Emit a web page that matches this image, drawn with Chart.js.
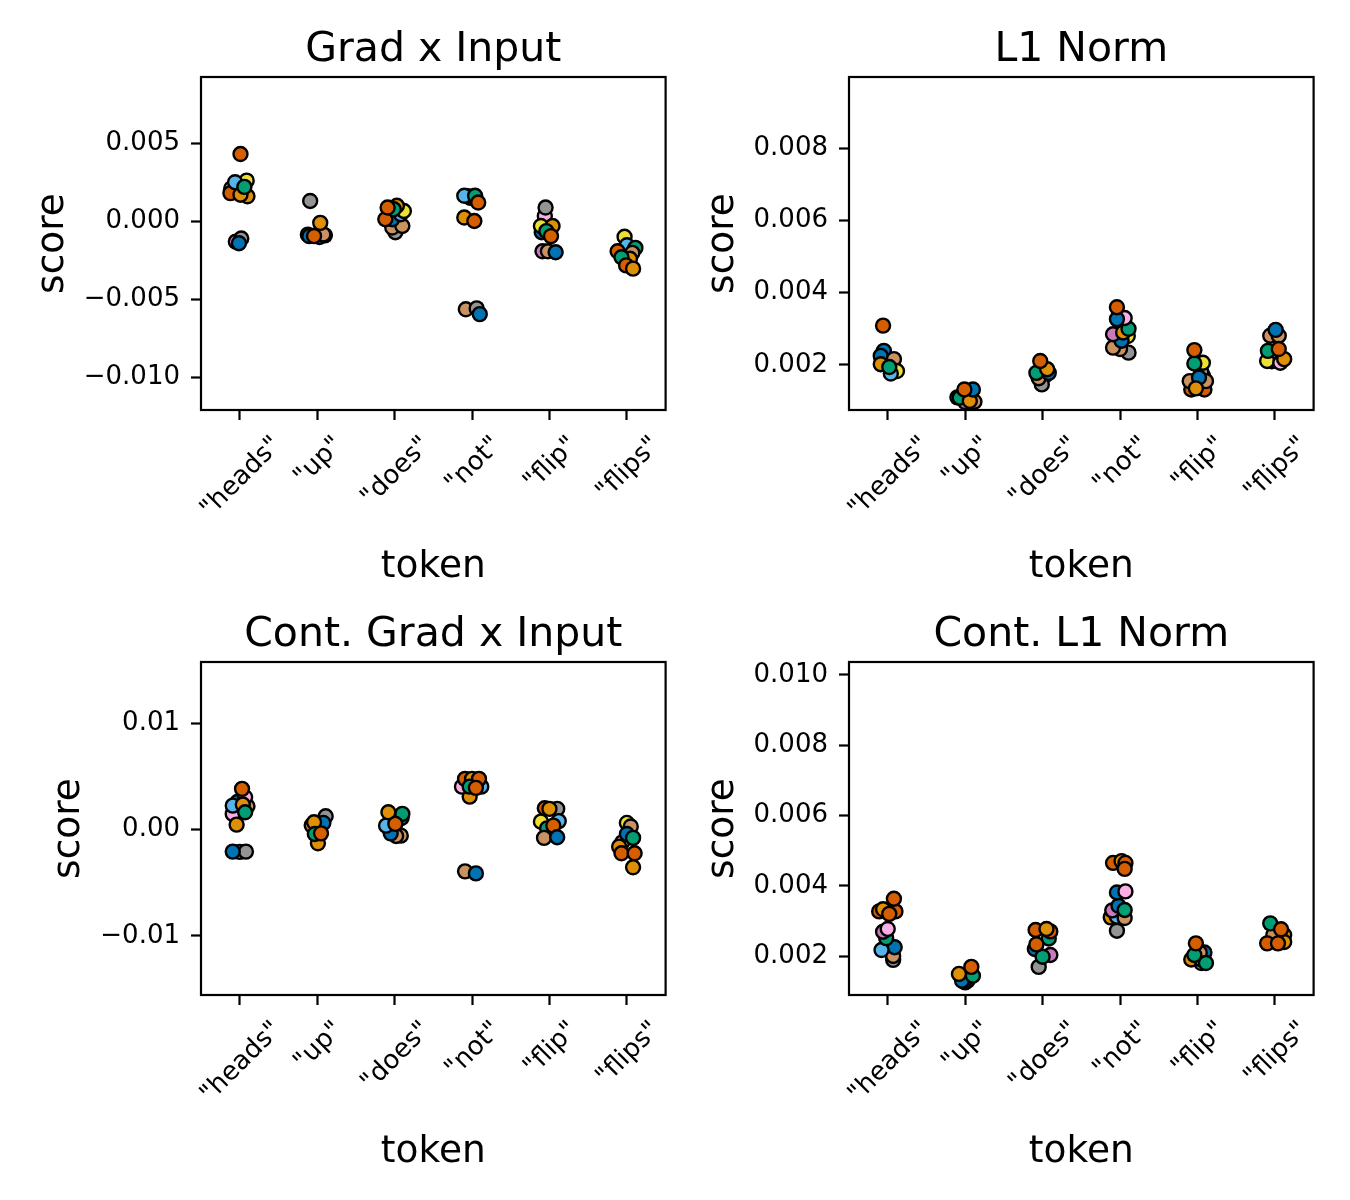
<!DOCTYPE html>
<html>
<head>
<meta charset="utf-8">
<script src="https://cdn.jsdelivr.net/npm/chart.js@4.4.1/dist/chart.umd.min.js"></script>
<style>
  body { margin: 0; background: #fff; width: 1350px; height: 1200px; position: relative; overflow: hidden; }
  canvas { position: absolute; }
</style>
</head>
<body>
<canvas id="c0" width="675" height="585" style="left:0;top:0"></canvas>
<canvas id="c1" width="675" height="585" style="left:648px;top:0"></canvas>
<canvas id="c2" width="675" height="615" style="left:0;top:585px"></canvas>
<canvas id="c3" width="675" height="615" style="left:648px;top:585px"></canvas>
<script>
// token categories on the x axis
const tokens = ['"heads"', '"up"', '"does"', '"not"', '"flip"', '"flips"'];
// seaborn colorblind palette
// 0 blue 1 orange 2 green 3 vermillion 4 purple 5 tan 6 pink 7 gray 8 yellow 9 light blue
const palette = ['#0173b2', '#de8f05', '#029e73', '#d55e00', '#cc78bc', '#ca9161', '#fbafe4', '#949494', '#ece133', '#56b4e9'];

// --- Grad x Input ---
const gxiScore = [
  [0.0026, 0.0021, 0.0016, 0.0018, 0.0017, 0.0025, 0.0022, 0.0043, -0.0013, -0.0011, -0.0014],
  [-0.00085, -0.0009, -0.0009, -0.00095, -0.0010, -0.0009, -0.00084, -0.00095, -0.0001, 0.0013],
  [-0.0007, -0.0004, -0.0003, 0.00013, 0.00013, 0.00045, 0.00066, 0.00099, 0.00077, 0.00088],
  [0.0015, 0.0016, 0.00163, 0.00163, 0.0012, 0.00024, 0.00002, -0.00563, -0.00557, -0.00594],
  [0.00034, 0.00088, -0.0007, -0.0003, -0.0003, -0.00063, -0.00095, -0.00192, -0.00192, -0.00198],
  [-0.0018, -0.00099, -0.00153, -0.0017, -0.00202, -0.00192, -0.0024, -0.0023, -0.00282, -0.00303]
];
const gxiJitter = [
  [0.09, -0.11, 0.10, -0.12, 0.01, -0.06, 0.06, 0.01, -0.05, 0.02, -0.01],
  [-0.12, -0.02, 0.06, -0.10, 0.03, 0.10, 0.08, -0.04, 0.04, -0.09],
  [0.01, -0.03, 0.10, -0.03, -0.12, 0.08, 0.12, 0.03, -0.01, -0.09],
  [-0.02, -0.05, -0.10, 0.04, 0.08, -0.10, 0.03, -0.08, 0.06, 0.10],
  [-0.06, -0.05, -0.10, -0.11, 0.04, -0.04, 0.02, -0.09, -0.02, 0.08],
  [-0.04, -0.03, 0.00, 0.11, 0.07, -0.12, 0.04, -0.07, -0.01, 0.08]
];
const gxiHue = [
  [8, 6, 1, 3, 1, 9, 2, 3, 4, 7, 0],
  [9, 4, 8, 0, 2, 6, 5, 3, 1, 7],
  [7, 5, 5, 0, 3, 9, 8, 1, 2, 3],
  [8, 0, 9, 2, 3, 1, 3, 5, 7, 0],
  [6, 7, 0, 8, 1, 2, 3, 4, 5, 0],
  [0, 8, 9, 2, 5, 3, 1, 2, 3, 1]
];
const gxiTicks = [-0.010, -0.005, 0.000, 0.005];

// --- L1 Norm ---
const l1Score = [
  [0.0022, 0.0021, 0.00239, 0.00225, 0.00216, 0.00202, 0.00183, 0.00176, 0.00194, 0.00309],
  [0.00105, 0.0011, 0.00097, 0.00098, 0.00109, 0.0010, 0.00132, 0.00132],
  [0.0017, 0.0018, 0.00146, 0.00163, 0.00178, 0.00178, 0.00188, 0.00211],
  [0.0028, 0.00234, 0.00244, 0.00248, 0.00267, 0.00285, 0.0029, 0.0030, 0.0033, 0.00327, 0.0036],
  [0.0016, 0.0017, 0.0018, 0.00132, 0.00132, 0.00155, 0.00155, 0.00165, 0.00135, 0.00206, 0.00204, 0.00241],
  [0.0022, 0.0021, 0.00211, 0.00206, 0.00216, 0.00281, 0.00281, 0.00297, 0.00239, 0.00244]
];
const l1Jitter = [
  [-0.08, 0.07, -0.05, -0.09, 0.08, -0.09, 0.12, 0.04, 0.02, -0.06],
  [0.02, -0.10, 0.00, 0.12, -0.07, 0.06, 0.10, -0.01],
  [0.03, 0.00, -0.01, -0.05, 0.08, -0.08, 0.06, -0.03],
  [0.10, 0.11, 0.00, -0.09, 0.02, -0.09, 0.04, 0.11, 0.06, -0.04, -0.04],
  [0.00, 0.07, 0.05, -0.08, 0.09, 0.11, -0.10, 0.02, -0.02, 0.07, -0.04, -0.04],
  [0.00, -0.04, -0.10, 0.07, 0.12, -0.06, 0.05, 0.01, -0.09, 0.05]
];
const l1Hue = [
  [4, 7, 0, 0, 5, 1, 8, 9, 2, 3],
  [9, 7, 4, 5, 2, 1, 0, 3],
  [4, 9, 7, 5, 0, 2, 1, 3],
  [8, 7, 5, 5, 0, 4, 1, 2, 6, 0, 3],
  [4, 9, 7, 3, 3, 5, 5, 0, 1, 8, 2, 3],
  [4, 9, 8, 6, 1, 5, 5, 0, 2, 3]
];
const l1Ticks = [0.002, 0.004, 0.006, 0.008];

// --- Cont. Grad x Input ---
const cgxiScore = [
  [0.0026, 0.0022, 0.00305, 0.00148, 0.00226, 0.00236, 0.00163, 0.00384, 0.00047, -0.0021, -0.00207, -0.00207],
  [0.0000, 0.0004, 0.00126, 0.00063, 0.00069, -0.00129, -0.00041, -0.00035],
  [-0.00057, -0.0006, -0.00035, 0.00038, 0.0011, 0.00148, 0.00163, 0.00054],
  [0.00311, 0.00405, 0.00405, 0.00478, 0.00478, 0.00478, 0.00405, 0.00393, -0.00393, -0.00412],
  [0.00195, 0.00201, 0.00195, 0.0008, 0.00075, 0.00012, 0.00038, -0.00078, -0.00072],
  [0.00063, 0.0003, -0.0012, -0.00041, -0.00078, -0.0016, -0.00223, -0.00223, -0.00355]
];
const cgxiJitter = [
  [-0.03, 0.10, 0.07, -0.09, -0.09, 0.04, 0.07, 0.03, -0.04, 0.00, 0.08, -0.09],
  [0.00, -0.07, 0.11, 0.08, -0.04, 0.01, -0.03, 0.05],
  [0.08, 0.02, -0.05, -0.11, 0.09, 0.10, -0.08, 0.01],
  [-0.03, -0.13, 0.12, -0.09, 0.00, 0.09, -0.03, 0.05, -0.09, 0.05],
  [0.10, -0.06, 0.00, 0.12, -0.11, -0.03, 0.05, -0.07, 0.10],
  [0.00, 0.05, -0.06, 0.00, 0.08, -0.10, -0.07, 0.10, 0.08]
];
const cgxiHue = [
  [0, 5, 6, 6, 9, 1, 2, 3, 1, 4, 7, 0],
  [9, 5, 7, 0, 1, 1, 2, 3],
  [5, 5, 0, 9, 2, 2, 1, 3],
  [1, 6, 9, 3, 1, 3, 2, 3, 5, 0],
  [7, 3, 1, 9, 8, 2, 3, 5, 0],
  [8, 5, 6, 0, 2, 1, 3, 3, 1]
];
const cgxiTicks = [-0.01, 0.00, 0.01];

// --- Cont. L1 Norm ---
const cl1Score = [
  [0.00189, 0.0020, 0.00225, 0.00217, 0.00251, 0.00269, 0.00277, 0.00327, 0.00327, 0.00333, 0.0032, 0.00363],
  [0.00125, 0.0013, 0.00128, 0.0013, 0.00149, 0.00144, 0.00169],
  [0.00169, 0.0022, 0.00203, 0.00198, 0.0025, 0.00233, 0.0027, 0.00274, 0.00277],
  [0.00272, 0.0031, 0.00312, 0.00308, 0.0033, 0.00343, 0.00331, 0.00381, 0.00384, 0.00465, 0.0047, 0.00465, 0.00448],
  [0.0018, 0.0019, 0.0019, 0.0021, 0.0021, 0.0018, 0.00203, 0.00236],
  [0.0025, 0.0026, 0.0026, 0.0024, 0.00236, 0.00236, 0.00293, 0.00276]
];
const cl1Jitter = [
  [0.07, 0.07, 0.09, -0.08, -0.02, -0.06, 0.00, -0.11, 0.10, -0.06, 0.02, 0.08],
  [0.00, 0.03, -0.01, -0.04, -0.08, 0.10, 0.08],
  [-0.05, -0.10, 0.10, 0.00, 0.08, -0.08, 0.10, -0.09, 0.05],
  [-0.04, -0.12, -0.04, 0.06, -0.10, -0.02, 0.06, -0.04, 0.07, -0.09, 0.02, 0.07, 0.06],
  [0.05, -0.08, 0.05, 0.09, 0.03, 0.11, -0.04, -0.02],
  [0.00, 0.12, -0.02, 0.12, -0.10, 0.04, -0.06, 0.08]
];
const cl1Hue = [
  [7, 5, 0, 9, 2, 4, 6, 3, 3, 1, 3, 3],
  [7, 4, 5, 0, 1, 2, 3],
  [7, 0, 4, 2, 2, 3, 3, 3, 1],
  [7, 1, 9, 5, 4, 0, 2, 0, 6, 3, 1, 3, 3],
  [7, 1, 9, 0, 5, 2, 2, 3],
  [0, 1, 5, 1, 3, 3, 2, 3]
];
const cl1Ticks = [0.002, 0.004, 0.006, 0.008, 0.010];

const panels = [
  { id: 'c0', title: 'Grad x Input', score: gxiScore, jitter: gxiJitter, hue: gxiHue, ticks: gxiTicks, dec: 3, min: -0.01207, max: 0.00923 },
  { id: 'c1', title: 'L1 Norm', score: l1Score, jitter: l1Jitter, hue: l1Hue, ticks: l1Ticks, dec: 3, min: 0.00075, max: 0.00998 },
  { id: 'c2', title: 'Cont. Grad x Input', score: cgxiScore, jitter: cgxiJitter, hue: cgxiHue, ticks: cgxiTicks, dec: 2, min: -0.01557, max: 0.01578 },
  { id: 'c3', title: 'Cont. L1 Norm', score: cl1Score, jitter: cl1Jitter, hue: cl1Hue, ticks: cl1Ticks, dec: 3, min: 0.00089, max: 0.01037 }
];

const FONT = 'DejaVu Sans';

function fmt(v, dec) {
  const s = Math.abs(v).toFixed(dec);
  return (v < 0 && Number(s) !== 0 ? '\u2212' : '') + s;
}

// frame, titles, rotated token labels
const decorPlugin = {
  id: 'decor',
  afterDraw(chart) {
    const { ctx, chartArea: a } = chart;
    const p = chart.options.plugins.decor;
    const xs = chart.scales.x;
    ctx.save();
    ctx.strokeStyle = '#000';
    ctx.lineWidth = 2.2;
    ctx.strokeRect(a.left, a.top, a.right - a.left, a.bottom - a.top);
    ctx.fillStyle = '#000';

    ctx.font = '41px "' + FONT + '"';
    ctx.textAlign = 'center';
    ctx.textBaseline = 'alphabetic';
    ctx.fillText(p.title, (a.left + a.right) / 2, a.top - 16);

    ctx.font = '26px "' + FONT + '"';
    const h = 26 * 1.164;
    tokens.forEach((t, i) => {
      const w = ctx.measureText(t).width;
      const x = xs.getPixelForValue(i);
      const cy = a.bottom + 19 + (w + h) / (2 * Math.SQRT2);
      ctx.save();
      ctx.translate(x, cy);
      ctx.rotate(-Math.PI / 4);
      ctx.fillText(t, 0, 26 * 0.346);
      ctx.restore();
    });
    let maxW = 0;
    p.ticks.forEach(v => { maxW = Math.max(maxW, ctx.measureText(fmt(v, p.dec)).width); });

    ctx.font = '37.5px "' + FONT + '"';
    ctx.fillText('token', (a.left + a.right) / 2, a.bottom + 167);
    ctx.save();
    ctx.translate(a.left - 21 - maxW - 21, (a.top + a.bottom) / 2);
    ctx.rotate(-Math.PI / 2);
    ctx.fillText('score', 0, 0);
    ctx.restore();
    ctx.restore();
  }
};

panels.forEach(p => {
  const el = document.getElementById(p.id);
  const H = el.height;
  const pts = [];
  const cols = [];
  p.score.forEach((vals, t) => vals.forEach((v, i) => {
    pts.push({ x: t + p.jitter[t][i], y: v });
    cols.push(palette[p.hue[t][i]]);
  }));

  new Chart(el, {
    type: 'scatter',
    data: {
      datasets: [{
        data: pts,
        pointBackgroundColor: cols,
        pointBorderColor: '#000',
        pointBorderWidth: 2.4,
        pointRadius: 7,
        pointHoverRadius: 7
      }]
    },
    options: {
      responsive: false,
      animation: false,
      devicePixelRatio: 1,
      layout: { padding: { top: 77, right: 7, left: 0, bottom: 0 } },
      plugins: {
        legend: { display: false },
        tooltip: { enabled: false },
        decor: { title: p.title, ticks: p.ticks, dec: p.dec }
      },
      scales: {
        x: {
          type: 'linear',
          min: -0.5,
          max: 5.5,
          afterBuildTicks: s => { s.ticks = tokens.map((_, i) => ({ value: i })); },
          afterFit: s => { s.height = H - 410; },
          ticks: { display: false },
          grid: { drawOnChartArea: false, drawTicks: true, tickLength: 10, tickWidth: 2.2, tickColor: '#000' },
          border: { display: false }
        },
        y: {
          min: p.min,
          max: p.max,
          afterBuildTicks: s => { s.ticks = p.ticks.map(v => ({ value: v })); },
          afterFit: s => { s.width = 201; },
          ticks: {
            color: '#000',
            padding: 11,
            font: { family: FONT, size: 26 },
            callback: v => fmt(v, p.dec)
          },
          grid: { drawOnChartArea: false, drawTicks: true, tickLength: 10, tickWidth: 2.2, tickColor: '#000' },
          border: { display: false }
        }
      }
    },
    plugins: [decorPlugin]
  });
});
</script>
</body>
</html>
